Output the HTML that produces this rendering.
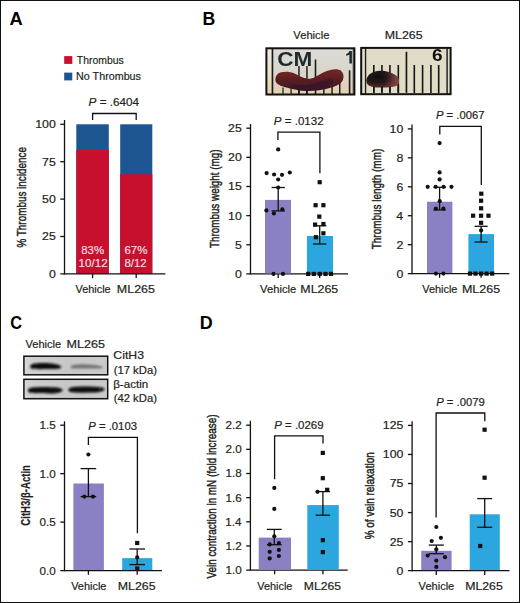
<!DOCTYPE html>
<html><head><meta charset="utf-8"><style>
html,body{margin:0;padding:0;background:#fff;}
svg{display:block;}
text{font-family:"Liberation Sans",sans-serif;}
</style></head><body>
<svg width="520" height="603" viewBox="0 0 520 603">
<rect x="0" y="0" width="520" height="603" fill="#fff"/>
<text x="9.54" y="25.00" font-size="17.5" font-weight="bold" fill="#000" textLength="13.24" lengthAdjust="spacingAndGlyphs" >A</text>
<text x="202.61" y="24.80" font-size="17.5" font-weight="bold" fill="#000" textLength="12.79" lengthAdjust="spacingAndGlyphs" >B</text>
<text x="10.13" y="329.20" font-size="17.5" font-weight="bold" fill="#000" textLength="11.82" lengthAdjust="spacingAndGlyphs" >C</text>
<text x="199.80" y="328.80" font-size="17.5" font-weight="bold" fill="#000" textLength="12.96" lengthAdjust="spacingAndGlyphs" >D</text>
<rect x="64.20" y="56.10" width="8.10" height="7.80" fill="#c8102e"/>
<rect x="64.20" y="72.60" width="8.10" height="7.80" fill="#1c5590"/>
<text x="76.87" y="63.80" font-size="11.5"  fill="#231f20" textLength="46.80" lengthAdjust="spacingAndGlyphs" stroke="#231f20" stroke-width="0.2">Thrombus</text>
<text x="76.12" y="80.40" font-size="11.5"  fill="#231f20" textLength="64.86" lengthAdjust="spacingAndGlyphs" stroke="#231f20" stroke-width="0.2">No Thrombus</text>
<text x="88.64" y="105.80" font-size="11"  fill="#231f20" textLength="50.40" lengthAdjust="spacingAndGlyphs" stroke="#231f20" stroke-width="0.2"><tspan font-style="italic">P</tspan> = .6404</text>
<path d="M92.60,119.90 V113.50 H136.20 V119.90" fill="none" stroke="#111" stroke-width="1.3"/>
<rect x="76.30" y="124.30" width="32.50" height="149.30" fill="#1c5590"/>
<rect x="76.30" y="150.00" width="32.50" height="123.60" fill="#c8102e"/>
<rect x="120.20" y="124.30" width="32.10" height="149.30" fill="#1c5590"/>
<rect x="120.20" y="174.20" width="32.10" height="99.40" fill="#c8102e"/>
<line x1="64.50" y1="120.00" x2="64.50" y2="274.55" stroke="#111" stroke-width="1.3"/>
<line x1="60.30" y1="273.90" x2="165.40" y2="273.90" stroke="#111" stroke-width="1.3"/>
<line x1="60.30" y1="124.30" x2="64.50" y2="124.30" stroke="#111" stroke-width="1.3"/>
<text x="35.23" y="128.25" font-size="11"  fill="#231f20" textLength="20.56" lengthAdjust="spacingAndGlyphs" stroke="#231f20" stroke-width="0.2">100</text>
<line x1="60.30" y1="161.70" x2="64.50" y2="161.70" stroke="#111" stroke-width="1.3"/>
<text x="42.12" y="165.65" font-size="11"  fill="#231f20" textLength="13.70" lengthAdjust="spacingAndGlyphs" stroke="#231f20" stroke-width="0.2">75</text>
<line x1="60.30" y1="199.10" x2="64.50" y2="199.10" stroke="#111" stroke-width="1.3"/>
<text x="42.08" y="203.05" font-size="11"  fill="#231f20" textLength="13.70" lengthAdjust="spacingAndGlyphs" stroke="#231f20" stroke-width="0.2">50</text>
<line x1="60.30" y1="236.50" x2="64.50" y2="236.50" stroke="#111" stroke-width="1.3"/>
<text x="42.12" y="240.45" font-size="11"  fill="#231f20" textLength="13.70" lengthAdjust="spacingAndGlyphs" stroke="#231f20" stroke-width="0.2">25</text>
<text x="48.93" y="277.85" font-size="11"  fill="#231f20" textLength="6.85" lengthAdjust="spacingAndGlyphs" stroke="#231f20" stroke-width="0.2">0</text>
<line x1="92.60" y1="273.90" x2="92.60" y2="278.10" stroke="#111" stroke-width="1.3"/>
<line x1="136.20" y1="273.90" x2="136.20" y2="278.10" stroke="#111" stroke-width="1.3"/>
<text x="81.31" y="253.80" font-size="10.8"  fill="#f6dde0" textLength="22.79" lengthAdjust="spacingAndGlyphs" stroke="#f6dde0" stroke-width="0.2">83%</text>
<text x="78.61" y="266.80" font-size="10.8"  fill="#f6dde0" textLength="29.17" lengthAdjust="spacingAndGlyphs" stroke="#f6dde0" stroke-width="0.2">10/12</text>
<text x="124.41" y="253.80" font-size="10.8"  fill="#f6dde0" textLength="22.99" lengthAdjust="spacingAndGlyphs" stroke="#f6dde0" stroke-width="0.2">67%</text>
<text x="124.51" y="266.80" font-size="10.8"  fill="#f6dde0" textLength="22.06" lengthAdjust="spacingAndGlyphs" stroke="#f6dde0" stroke-width="0.2">8/12</text>
<text x="75.55" y="292.70" font-size="11"  fill="#231f20" textLength="35.14" lengthAdjust="spacingAndGlyphs" stroke="#231f20" stroke-width="0.2">Vehicle</text>
<text x="116.88" y="292.70" font-size="11"  fill="#231f20" textLength="38.05" lengthAdjust="spacingAndGlyphs" stroke="#231f20" stroke-width="0.2">ML265</text>
<text transform="translate(25.90,247.56) rotate(-90)" font-size="13"  fill="#231f20" stroke="#231f20" stroke-width="0.45" textLength="100.50" lengthAdjust="spacingAndGlyphs">% Thrombus incidence</text>
<text x="293.34" y="39.40" font-size="11"  fill="#231f20" textLength="36.06" lengthAdjust="spacingAndGlyphs" stroke="#231f20" stroke-width="0.2">Vehicle</text>
<text x="384.79" y="39.40" font-size="11"  fill="#231f20" textLength="37.84" lengthAdjust="spacingAndGlyphs" stroke="#231f20" stroke-width="0.2">ML265</text>
<defs>
<linearGradient id="p1bg" x1="0" y1="0" x2="0" y2="1">
<stop offset="0" stop-color="#dcdbd4"/><stop offset="0.55" stop-color="#d8d6cc"/><stop offset="1" stop-color="#e4cfae"/>
</linearGradient>
<linearGradient id="p1side" x1="0" y1="0" x2="0" y2="1">
<stop offset="0" stop-color="#eceae2"/><stop offset="0.5" stop-color="#ebe4cc"/><stop offset="1" stop-color="#e8d4a8"/>
</linearGradient>
<linearGradient id="thr1" x1="0" y1="0" x2="0" y2="1">
<stop offset="0" stop-color="#742822"/><stop offset="0.35" stop-color="#632020"/><stop offset="0.7" stop-color="#4e1a22"/><stop offset="1" stop-color="#361628"/>
</linearGradient>
<radialGradient id="thr2" cx="0.35" cy="0.35" r="0.75">
<stop offset="0" stop-color="#141014"/><stop offset="0.45" stop-color="#201418"/><stop offset="0.8" stop-color="#4a2a28"/><stop offset="1" stop-color="#6a3a34"/>
</radialGradient>
<linearGradient id="thr2r" x1="0" y1="0" x2="1" y2="0">
<stop offset="0" stop-color="#7a3a38" stop-opacity="0"/><stop offset="0.55" stop-color="#7a3a38" stop-opacity="0"/><stop offset="1" stop-color="#8e4c46" stop-opacity="0.9"/>
</linearGradient>
<filter id="soft" x="-10%" y="-10%" width="120%" height="120%"><feGaussianBlur stdDeviation="0.45"/></filter>
<filter id="soft2" x="-10%" y="-20%" width="120%" height="140%"><feGaussianBlur stdDeviation="0.7"/></filter>
</defs>
<!-- photo 1 -->
<rect x="266.4" y="48.3" width="88" height="46.2" fill="url(#p1bg)"/>
<rect x="266.4" y="48.3" width="5.6" height="46.2" fill="url(#p1side)"/>
<g filter="url(#soft)">
<rect x="271.6" y="48.3" width="1.7" height="46" fill="#1c1c1c"/>
<rect x="298.2" y="66" width="1.5" height="28" fill="#222"/>
<rect x="306.2" y="66" width="1.5" height="28" fill="#222"/>
<rect x="314.7" y="59.5" width="1.6" height="35" fill="#1c1c1c"/>
<rect x="323.1" y="76" width="1.5" height="18" fill="#222"/>
<rect x="331.3" y="76" width="1.5" height="18" fill="#222"/>
<rect x="339.0" y="70" width="1.5" height="24" fill="#222"/>
<rect x="348.8" y="70.3" width="1.6" height="24" fill="#1c1c1c"/>
<rect x="352.6" y="48.3" width="1.2" height="46" fill="#333" opacity="0.7"/>
<text x="277.2" y="66.2" font-size="19.3" font-weight="bold" fill="#1f2a2d" textLength="35.2" lengthAdjust="spacingAndGlyphs">CM</text>
<path d="M349.4,50.9 H351.9 V63.6 H349.4 V54.6 C348.6,55.3 347.4,55.6 346.2,55.7 V53.9 C347.8,53.6 349,52.4 349.4,50.9 Z" fill="#1f2a2d"/>
</g>
<g filter="url(#soft2)">
<path d="M275.4,80 C275.2,76 277.5,73.2 281,72.3 C285,71.2 290,71.6 294,73.2 C299,75.2 303,78.4 308,78.8 C313,79 316,76.5 320,74.3 C325,71.6 330,69.6 335,69.3 C339.5,69.1 342.8,71.3 343.4,75 C344,79 342.6,82 339.5,84 C335,87 327,89 319,90.3 C311,91.3 302,91.2 295,89.4 C288,88 281.5,86.6 278,84.2 C276.2,83 275.5,81.6 275.4,80 Z" fill="url(#thr1)"/>
<path d="M292,84 C300,86 306,85.5 312,84 C318,82.5 322,80 328,78.5 C332,78 335,80 333,83 C329,86.5 320,88.8 312,89.6 C304,90.2 297,89.5 292,87.5 Z" fill="#2e1830" opacity="0.55"/>
</g>
<g filter="url(#soft)">
<rect x="282.3" y="87.5" width="1.4" height="6.5" fill="#1a1414" opacity="0.85"/>
<rect x="290.4" y="88.5" width="1.4" height="5.5" fill="#1a1414" opacity="0.85"/>
<rect x="298.2" y="89.5" width="1.5" height="4.5" fill="#1a1414"/>
<rect x="306.2" y="89.5" width="1.5" height="4.5" fill="#1a1414"/>
</g>
<rect x="266.4" y="48.3" width="88" height="46.2" fill="none" stroke="#111" stroke-width="2"/>
<!-- photo 2 -->
<rect x="361.2" y="47.9" width="89.4" height="46.3" fill="#e1dcc7"/>
<g filter="url(#soft)">
<rect x="364.9" y="47.9" width="1.3" height="46.3" fill="#1a1a1a"/>
<rect x="446.4" y="47.9" width="1.4" height="46.3" fill="#1a1a1a"/>
<rect x="373.0" y="65" width="1.6" height="28" fill="#151515"/>
<rect x="381.1" y="65" width="1.6" height="28" fill="#151515"/>
<rect x="389.1" y="65" width="1.6" height="28" fill="#151515"/>
<rect x="397.5" y="65" width="1.6" height="28" fill="#151515"/>
<rect x="405.6" y="51.8" width="1.7" height="41" fill="#151515"/>
<rect x="413.5" y="65" width="1.6" height="28" fill="#151515"/>
<rect x="421.8" y="65" width="1.6" height="28" fill="#151515"/>
<rect x="430.1" y="65" width="1.6" height="28" fill="#151515"/>
<rect x="437.9" y="65" width="1.6" height="28" fill="#151515"/>
<text x="431.9" y="60.9" font-size="16.5" font-weight="bold" fill="#111" textLength="10.6" lengthAdjust="spacingAndGlyphs">6</text>
</g>
<g filter="url(#soft2)">
<path d="M366.3,81 C366.3,76 371,71.5 379,70.7 C386,70.2 393,72.5 397,76.5 C399.6,79.5 399.4,83.5 397,85.6 C393,87.6 385,87.8 378,87.6 C371,87.3 366.6,85.6 366.3,81 Z" fill="url(#thr2)"/>
<path d="M366.3,81 C366.3,76 371,71.5 379,70.7 C386,70.2 393,72.5 397,76.5 C399.6,79.5 399.4,83.5 397,85.6 C393,87.6 385,87.8 378,87.6 C371,87.3 366.6,85.6 366.3,81 Z" fill="url(#thr2r)"/>
</g>
<g filter="url(#soft)">
<rect x="373.0" y="86.5" width="1.6" height="6" fill="#151515"/>
<rect x="381.1" y="86.5" width="1.6" height="6" fill="#151515"/>
<rect x="389.1" y="86.5" width="1.6" height="6" fill="#151515"/>
<rect x="397.5" y="85" width="1.6" height="7.5" fill="#151515"/>
</g>
<rect x="361.2" y="47.9" width="89.4" height="46.3" fill="none" stroke="#111" stroke-width="2"/>

<line x1="250.50" y1="124.10" x2="250.50" y2="274.55" stroke="#111" stroke-width="1.3"/>
<line x1="246.30" y1="273.90" x2="348.00" y2="273.90" stroke="#111" stroke-width="1.3"/>
<line x1="246.30" y1="128.20" x2="250.50" y2="128.20" stroke="#111" stroke-width="1.3"/>
<text x="228.12" y="132.15" font-size="11"  fill="#231f20" textLength="13.70" lengthAdjust="spacingAndGlyphs" stroke="#231f20" stroke-width="0.2">25</text>
<line x1="246.30" y1="157.34" x2="250.50" y2="157.34" stroke="#111" stroke-width="1.3"/>
<text x="228.08" y="161.29" font-size="11"  fill="#231f20" textLength="13.70" lengthAdjust="spacingAndGlyphs" stroke="#231f20" stroke-width="0.2">20</text>
<line x1="246.30" y1="186.48" x2="250.50" y2="186.48" stroke="#111" stroke-width="1.3"/>
<text x="228.12" y="190.43" font-size="11"  fill="#231f20" textLength="13.70" lengthAdjust="spacingAndGlyphs" stroke="#231f20" stroke-width="0.2">15</text>
<line x1="246.30" y1="215.62" x2="250.50" y2="215.62" stroke="#111" stroke-width="1.3"/>
<text x="228.08" y="219.57" font-size="11"  fill="#231f20" textLength="13.70" lengthAdjust="spacingAndGlyphs" stroke="#231f20" stroke-width="0.2">10</text>
<line x1="246.30" y1="244.76" x2="250.50" y2="244.76" stroke="#111" stroke-width="1.3"/>
<text x="234.97" y="248.71" font-size="11"  fill="#231f20" textLength="6.85" lengthAdjust="spacingAndGlyphs" stroke="#231f20" stroke-width="0.2">5</text>
<text x="234.93" y="277.85" font-size="11"  fill="#231f20" textLength="6.85" lengthAdjust="spacingAndGlyphs" stroke="#231f20" stroke-width="0.2">0</text>
<line x1="278.20" y1="273.90" x2="278.20" y2="278.10" stroke="#111" stroke-width="1.3"/>
<line x1="319.70" y1="273.90" x2="319.70" y2="278.10" stroke="#111" stroke-width="1.3"/>
<rect x="265.00" y="199.90" width="26.00" height="73.40" fill="#8a80c4"/>
<rect x="306.90" y="236.00" width="26.10" height="37.30" fill="#2ba6df"/>
<line x1="278.20" y1="187.50" x2="278.20" y2="210.90" stroke="#111" stroke-width="1.3"/>
<line x1="271.60" y1="187.50" x2="284.80" y2="187.50" stroke="#111" stroke-width="1.3"/>
<line x1="271.60" y1="210.90" x2="284.80" y2="210.90" stroke="#111" stroke-width="1.3"/>
<line x1="319.70" y1="225.80" x2="319.70" y2="244.00" stroke="#111" stroke-width="1.3"/>
<line x1="313.00" y1="225.80" x2="326.40" y2="225.80" stroke="#111" stroke-width="1.3"/>
<line x1="313.00" y1="244.00" x2="326.40" y2="244.00" stroke="#111" stroke-width="1.3"/>
<circle cx="278.20" cy="149.40" r="2.1" fill="#111"/>
<circle cx="266.60" cy="173.10" r="2.1" fill="#111"/>
<circle cx="274.10" cy="174.50" r="2.1" fill="#111"/>
<circle cx="282.00" cy="174.80" r="2.1" fill="#111"/>
<circle cx="289.80" cy="172.50" r="2.1" fill="#111"/>
<circle cx="278.20" cy="179.50" r="2.1" fill="#111"/>
<circle cx="278.20" cy="187.50" r="2.1" fill="#111"/>
<circle cx="266.40" cy="210.40" r="2.1" fill="#111"/>
<circle cx="273.90" cy="213.40" r="2.1" fill="#111"/>
<circle cx="282.30" cy="209.40" r="2.1" fill="#111"/>
<circle cx="273.50" cy="273.90" r="2.1" fill="#111"/>
<circle cx="283.00" cy="273.90" r="2.1" fill="#111"/>
<rect x="317.60" y="180.10" width="4.20" height="4.20" fill="#111"/>
<rect x="313.50" y="203.10" width="4.20" height="4.20" fill="#111"/>
<rect x="321.30" y="203.10" width="4.20" height="4.20" fill="#111"/>
<rect x="317.20" y="214.50" width="4.20" height="4.20" fill="#111"/>
<rect x="313.00" y="222.50" width="4.20" height="4.20" fill="#111"/>
<rect x="321.30" y="221.90" width="4.20" height="4.20" fill="#111"/>
<rect x="321.30" y="231.20" width="4.20" height="4.20" fill="#111"/>
<rect x="313.80" y="235.10" width="4.20" height="4.20" fill="#111"/>
<rect x="306.10" y="271.80" width="4.20" height="4.20" fill="#111"/>
<rect x="311.70" y="271.80" width="4.20" height="4.20" fill="#111"/>
<rect x="317.60" y="271.80" width="4.20" height="4.20" fill="#111"/>
<rect x="323.40" y="271.80" width="4.20" height="4.20" fill="#111"/>
<rect x="328.90" y="271.80" width="4.20" height="4.20" fill="#111"/>
<path d="M277.90,139.90 V132.20 H319.90 V173.30" fill="none" stroke="#111" stroke-width="1.3"/>
<text x="273.85" y="124.80" font-size="11"  fill="#231f20" textLength="49.73" lengthAdjust="spacingAndGlyphs" stroke="#231f20" stroke-width="0.2"><tspan font-style="italic">P</tspan> = .0132</text>
<text x="260.14" y="293.20" font-size="11"  fill="#231f20" textLength="36.06" lengthAdjust="spacingAndGlyphs" stroke="#231f20" stroke-width="0.2">Vehicle</text>
<text x="300.39" y="293.20" font-size="11"  fill="#231f20" textLength="37.84" lengthAdjust="spacingAndGlyphs" stroke="#231f20" stroke-width="0.2">ML265</text>
<text transform="translate(218.90,248.12) rotate(-90)" font-size="13"  fill="#231f20" stroke="#231f20" stroke-width="0.45" textLength="98.73" lengthAdjust="spacingAndGlyphs">Thrombus weight (mg)</text>
<line x1="412.00" y1="124.60" x2="412.00" y2="274.25" stroke="#111" stroke-width="1.3"/>
<line x1="407.80" y1="273.60" x2="509.30" y2="273.60" stroke="#111" stroke-width="1.3"/>
<line x1="407.80" y1="128.90" x2="412.00" y2="128.90" stroke="#111" stroke-width="1.3"/>
<text x="389.58" y="132.85" font-size="11"  fill="#231f20" textLength="13.70" lengthAdjust="spacingAndGlyphs" stroke="#231f20" stroke-width="0.2">10</text>
<line x1="407.80" y1="157.84" x2="412.00" y2="157.84" stroke="#111" stroke-width="1.3"/>
<text x="396.48" y="161.79" font-size="11"  fill="#231f20" textLength="6.85" lengthAdjust="spacingAndGlyphs" stroke="#231f20" stroke-width="0.2">8</text>
<line x1="407.80" y1="186.78" x2="412.00" y2="186.78" stroke="#111" stroke-width="1.3"/>
<text x="396.49" y="190.73" font-size="11"  fill="#231f20" textLength="6.85" lengthAdjust="spacingAndGlyphs" stroke="#231f20" stroke-width="0.2">6</text>
<line x1="407.80" y1="215.72" x2="412.00" y2="215.72" stroke="#111" stroke-width="1.3"/>
<text x="396.31" y="219.67" font-size="11"  fill="#231f20" textLength="6.85" lengthAdjust="spacingAndGlyphs" stroke="#231f20" stroke-width="0.2">4</text>
<line x1="407.80" y1="244.66" x2="412.00" y2="244.66" stroke="#111" stroke-width="1.3"/>
<text x="396.57" y="248.61" font-size="11"  fill="#231f20" textLength="6.85" lengthAdjust="spacingAndGlyphs" stroke="#231f20" stroke-width="0.2">2</text>
<text x="396.43" y="277.55" font-size="11"  fill="#231f20" textLength="6.85" lengthAdjust="spacingAndGlyphs" stroke="#231f20" stroke-width="0.2">0</text>
<line x1="439.60" y1="273.60" x2="439.60" y2="277.80" stroke="#111" stroke-width="1.3"/>
<line x1="481.10" y1="273.60" x2="481.10" y2="277.80" stroke="#111" stroke-width="1.3"/>
<rect x="427.00" y="201.70" width="25.40" height="71.30" fill="#8a80c4"/>
<rect x="468.40" y="234.10" width="25.60" height="38.90" fill="#2ba6df"/>
<line x1="439.60" y1="187.30" x2="439.60" y2="209.90" stroke="#111" stroke-width="1.3"/>
<line x1="433.40" y1="187.30" x2="445.80" y2="187.30" stroke="#111" stroke-width="1.3"/>
<line x1="433.40" y1="209.90" x2="445.80" y2="209.90" stroke="#111" stroke-width="1.3"/>
<line x1="481.10" y1="226.30" x2="481.10" y2="242.00" stroke="#111" stroke-width="1.3"/>
<line x1="474.50" y1="226.30" x2="487.70" y2="226.30" stroke="#111" stroke-width="1.3"/>
<line x1="474.50" y1="242.00" x2="487.70" y2="242.00" stroke="#111" stroke-width="1.3"/>
<circle cx="439.60" cy="143.10" r="2.1" fill="#111"/>
<circle cx="439.60" cy="172.40" r="2.1" fill="#111"/>
<circle cx="439.60" cy="179.40" r="2.1" fill="#111"/>
<circle cx="427.70" cy="186.80" r="2.1" fill="#111"/>
<circle cx="435.70" cy="186.80" r="2.1" fill="#111"/>
<circle cx="443.60" cy="186.80" r="2.1" fill="#111"/>
<circle cx="451.50" cy="186.80" r="2.1" fill="#111"/>
<circle cx="439.70" cy="201.20" r="2.1" fill="#111"/>
<circle cx="435.90" cy="208.70" r="2.1" fill="#111"/>
<circle cx="443.40" cy="208.70" r="2.1" fill="#111"/>
<circle cx="435.90" cy="273.60" r="2.1" fill="#111"/>
<circle cx="443.40" cy="273.60" r="2.1" fill="#111"/>
<rect x="479.20" y="191.60" width="4.20" height="4.20" fill="#111"/>
<rect x="479.00" y="198.60" width="4.20" height="4.20" fill="#111"/>
<rect x="479.00" y="206.20" width="4.20" height="4.20" fill="#111"/>
<rect x="471.00" y="213.60" width="4.20" height="4.20" fill="#111"/>
<rect x="479.00" y="213.60" width="4.20" height="4.20" fill="#111"/>
<rect x="486.40" y="213.60" width="4.20" height="4.20" fill="#111"/>
<rect x="479.00" y="220.70" width="4.20" height="4.20" fill="#111"/>
<rect x="467.90" y="271.50" width="4.20" height="4.20" fill="#111"/>
<rect x="473.40" y="271.50" width="4.20" height="4.20" fill="#111"/>
<rect x="479.00" y="271.50" width="4.20" height="4.20" fill="#111"/>
<rect x="484.50" y="271.50" width="4.20" height="4.20" fill="#111"/>
<rect x="490.10" y="271.50" width="4.20" height="4.20" fill="#111"/>
<circle cx="481.10" cy="230.40" r="2.1" fill="#111"/>
<path d="M439.80,134.40 V126.30 H481.30 V185.00" fill="none" stroke="#111" stroke-width="1.3"/>
<text x="435.97" y="118.80" font-size="11"  fill="#231f20" textLength="48.60" lengthAdjust="spacingAndGlyphs" stroke="#231f20" stroke-width="0.2"><tspan font-style="italic">P</tspan> = .0067</text>
<text x="422.25" y="293.30" font-size="11"  fill="#231f20" textLength="35.14" lengthAdjust="spacingAndGlyphs" stroke="#231f20" stroke-width="0.2">Vehicle</text>
<text x="461.98" y="293.30" font-size="11"  fill="#231f20" textLength="38.16" lengthAdjust="spacingAndGlyphs" stroke="#231f20" stroke-width="0.2">ML265</text>
<text transform="translate(380.60,249.22) rotate(-90)" font-size="13"  fill="#231f20" stroke="#231f20" stroke-width="0.45" textLength="100.43" lengthAdjust="spacingAndGlyphs">Thrombus length (mm)</text>
<text x="25.44" y="348.20" font-size="11"  fill="#231f20" textLength="35.75" lengthAdjust="spacingAndGlyphs" stroke="#231f20" stroke-width="0.2">Vehicle</text>
<text x="66.57" y="348.20" font-size="11"  fill="#231f20" textLength="38.36" lengthAdjust="spacingAndGlyphs" stroke="#231f20" stroke-width="0.2">ML265</text>
<defs>
<linearGradient id="blotbg" x1="0" y1="0" x2="1" y2="0">
<stop offset="0" stop-color="#d8d8d8"/><stop offset="0.12" stop-color="#cdcdcd"/><stop offset="0.5" stop-color="#c7c7c7"/><stop offset="1" stop-color="#cacaca"/>
</linearGradient>
<filter id="bl1" x="-20%" y="-100%" width="140%" height="300%"><feGaussianBlur stdDeviation="1.1"/></filter>
</defs>
<rect x="23.9" y="356.2" width="83.8" height="18.6" fill="url(#blotbg)"/>
<rect x="23.9" y="379.3" width="83.8" height="19.4" fill="url(#blotbg)"/>
<g filter="url(#bl1)">
<path d="M30.2,366.2 C30.8,363.6 36,362.9 44,363.1 C52,363.3 58.5,364.2 61.2,366.4 C62,368.3 58,369.2 51,369.1 C43,369 36,369.4 32,368.8 C30.4,368.3 30,367.2 30.2,366.2 Z" fill="#0c0c0c"/>
<path d="M70.6,366.8 C71.5,364.8 78,364.2 86,364.4 C94,364.6 100.5,365.4 103.2,367 C103.5,368.4 98,368.8 90,368.6 C82,368.4 75,368.8 72,368.4 C70.8,368 70.4,367.4 70.6,366.8 Z" fill="#747474"/>
<path d="M27.8,390 C28.6,387.4 36,386.9 45,387.1 C54,387.2 60.5,387.6 62.5,389.4 C63.3,391.7 59,393.4 50,393.4 C40,393.4 32,393.4 29.3,392.6 C28,392 27.6,390.9 27.8,390 Z" fill="#0a0a0a"/>
<path d="M68.4,389.3 C69.2,386.8 76,386.3 86,386.4 C95,386.5 102.5,386.8 104.5,388.5 C105.3,390.7 101,392.5 92,392.6 C82,392.7 74,392.7 70,391.9 C68.7,391.3 68.2,390.2 68.4,389.3 Z" fill="#0a0a0a"/>
</g>
<circle cx="99.6" cy="388.4" r="0.9" fill="#777" filter="url(#bl1)"/>
<rect x="23.9" y="356.2" width="83.8" height="18.6" fill="none" stroke="#111" stroke-width="1.5"/>
<rect x="23.9" y="379.3" width="83.8" height="19.4" fill="none" stroke="#111" stroke-width="1.5"/>

<text x="113.37" y="359.40" font-size="11"  fill="#231f20" textLength="30.67" lengthAdjust="spacingAndGlyphs" stroke="#231f20" stroke-width="0.2">CitH3</text>
<text x="113.70" y="373.75" font-size="11"  fill="#231f20" textLength="43.25" lengthAdjust="spacingAndGlyphs" stroke="#231f20" stroke-width="0.2">(17 kDa)</text>
<text x="113.20" y="387.50" font-size="11"  fill="#231f20" textLength="35.06" lengthAdjust="spacingAndGlyphs" stroke="#231f20" stroke-width="0.2">β-actin</text>
<text x="113.70" y="401.50" font-size="11"  fill="#231f20" textLength="43.25" lengthAdjust="spacingAndGlyphs" stroke="#231f20" stroke-width="0.2">(42 kDa)</text>
<line x1="64.50" y1="421.30" x2="64.50" y2="571.25" stroke="#111" stroke-width="1.3"/>
<line x1="60.30" y1="570.60" x2="161.90" y2="570.60" stroke="#111" stroke-width="1.3"/>
<line x1="60.30" y1="425.20" x2="64.50" y2="425.20" stroke="#111" stroke-width="1.3"/>
<text x="39.58" y="429.15" font-size="11"  fill="#231f20" textLength="16.21" lengthAdjust="spacingAndGlyphs" stroke="#231f20" stroke-width="0.2">1.5</text>
<line x1="60.30" y1="473.67" x2="64.50" y2="473.67" stroke="#111" stroke-width="1.3"/>
<text x="39.55" y="477.62" font-size="11"  fill="#231f20" textLength="16.21" lengthAdjust="spacingAndGlyphs" stroke="#231f20" stroke-width="0.2">1.0</text>
<line x1="60.30" y1="522.13" x2="64.50" y2="522.13" stroke="#111" stroke-width="1.3"/>
<text x="39.58" y="526.08" font-size="11"  fill="#231f20" textLength="16.21" lengthAdjust="spacingAndGlyphs" stroke="#231f20" stroke-width="0.2">0.5</text>
<text x="39.55" y="574.55" font-size="11"  fill="#231f20" textLength="16.21" lengthAdjust="spacingAndGlyphs" stroke="#231f20" stroke-width="0.2">0.0</text>
<line x1="88.40" y1="570.60" x2="88.40" y2="574.80" stroke="#111" stroke-width="1.3"/>
<line x1="137.20" y1="570.60" x2="137.20" y2="574.80" stroke="#111" stroke-width="1.3"/>
<rect x="73.40" y="483.50" width="30.50" height="86.50" fill="#8a80c4"/>
<rect x="122.20" y="558.10" width="30.10" height="11.90" fill="#2ba6df"/>
<line x1="88.40" y1="468.60" x2="88.40" y2="496.60" stroke="#111" stroke-width="1.3"/>
<line x1="80.60" y1="468.60" x2="96.20" y2="468.60" stroke="#111" stroke-width="1.3"/>
<line x1="80.60" y1="496.60" x2="96.20" y2="496.60" stroke="#111" stroke-width="1.3"/>
<line x1="137.20" y1="549.00" x2="137.20" y2="564.60" stroke="#111" stroke-width="1.3"/>
<line x1="129.40" y1="549.00" x2="145.00" y2="549.00" stroke="#111" stroke-width="1.3"/>
<line x1="129.40" y1="564.60" x2="145.00" y2="564.60" stroke="#111" stroke-width="1.3"/>
<circle cx="88.40" cy="454.50" r="2.1" fill="#111"/>
<circle cx="84.30" cy="496.60" r="2.1" fill="#111"/>
<circle cx="93.00" cy="496.60" r="2.1" fill="#111"/>
<rect x="135.10" y="540.90" width="4.20" height="4.20" fill="#111"/>
<rect x="135.10" y="566.40" width="4.20" height="4.20" fill="#111"/>
<circle cx="137.20" cy="557.40" r="2.1" fill="#111"/>
<path d="M88.40,444.90 V437.40 H137.40 V533.20" fill="none" stroke="#111" stroke-width="1.3"/>
<text x="88.27" y="429.50" font-size="11"  fill="#231f20" textLength="48.73" lengthAdjust="spacingAndGlyphs" stroke="#231f20" stroke-width="0.2"><tspan font-style="italic">P</tspan> = .0103</text>
<text x="71.15" y="590.00" font-size="11"  fill="#231f20" textLength="35.34" lengthAdjust="spacingAndGlyphs" stroke="#231f20" stroke-width="0.2">Vehicle</text>
<text x="117.79" y="590.00" font-size="11"  fill="#231f20" textLength="37.74" lengthAdjust="spacingAndGlyphs" stroke="#231f20" stroke-width="0.2">ML265</text>
<text transform="translate(30.30,525.69) rotate(-90)" font-size="13" font-weight="bold" fill="#231f20" stroke="#231f20" stroke-width="0.2" textLength="60.58" lengthAdjust="spacingAndGlyphs">CitH3/β-Actin</text>
<line x1="250.40" y1="420.80" x2="250.40" y2="570.75" stroke="#111" stroke-width="1.3"/>
<line x1="246.20" y1="570.10" x2="347.70" y2="570.10" stroke="#111" stroke-width="1.3"/>
<line x1="246.20" y1="425.20" x2="250.40" y2="425.20" stroke="#111" stroke-width="1.3"/>
<text x="225.58" y="429.15" font-size="11"  fill="#231f20" textLength="16.21" lengthAdjust="spacingAndGlyphs" stroke="#231f20" stroke-width="0.2">2.2</text>
<line x1="246.20" y1="449.35" x2="250.40" y2="449.35" stroke="#111" stroke-width="1.3"/>
<text x="225.45" y="453.30" font-size="11"  fill="#231f20" textLength="16.21" lengthAdjust="spacingAndGlyphs" stroke="#231f20" stroke-width="0.2">2.0</text>
<line x1="246.20" y1="473.50" x2="250.40" y2="473.50" stroke="#111" stroke-width="1.3"/>
<text x="225.49" y="477.45" font-size="11"  fill="#231f20" textLength="16.21" lengthAdjust="spacingAndGlyphs" stroke="#231f20" stroke-width="0.2">1.8</text>
<line x1="246.20" y1="497.65" x2="250.40" y2="497.65" stroke="#111" stroke-width="1.3"/>
<text x="225.51" y="501.60" font-size="11"  fill="#231f20" textLength="16.21" lengthAdjust="spacingAndGlyphs" stroke="#231f20" stroke-width="0.2">1.6</text>
<line x1="246.20" y1="521.80" x2="250.40" y2="521.80" stroke="#111" stroke-width="1.3"/>
<text x="225.33" y="525.75" font-size="11"  fill="#231f20" textLength="16.21" lengthAdjust="spacingAndGlyphs" stroke="#231f20" stroke-width="0.2">1.4</text>
<line x1="246.20" y1="545.95" x2="250.40" y2="545.95" stroke="#111" stroke-width="1.3"/>
<text x="225.58" y="549.90" font-size="11"  fill="#231f20" textLength="16.21" lengthAdjust="spacingAndGlyphs" stroke="#231f20" stroke-width="0.2">1.2</text>
<text x="225.45" y="574.05" font-size="11"  fill="#231f20" textLength="16.21" lengthAdjust="spacingAndGlyphs" stroke="#231f20" stroke-width="0.2">1.0</text>
<line x1="274.60" y1="570.10" x2="274.60" y2="574.30" stroke="#111" stroke-width="1.3"/>
<line x1="322.90" y1="570.10" x2="322.90" y2="574.30" stroke="#111" stroke-width="1.3"/>
<rect x="258.70" y="537.60" width="32.30" height="31.90" fill="#8a80c4"/>
<rect x="307.30" y="505.10" width="31.50" height="64.40" fill="#2ba6df"/>
<line x1="274.30" y1="529.40" x2="274.30" y2="544.70" stroke="#111" stroke-width="1.3"/>
<line x1="266.90" y1="529.40" x2="281.70" y2="529.40" stroke="#111" stroke-width="1.3"/>
<line x1="266.90" y1="544.70" x2="281.70" y2="544.70" stroke="#111" stroke-width="1.3"/>
<line x1="322.90" y1="491.60" x2="322.90" y2="515.20" stroke="#111" stroke-width="1.3"/>
<line x1="315.70" y1="491.60" x2="330.10" y2="491.60" stroke="#111" stroke-width="1.3"/>
<line x1="315.70" y1="515.20" x2="330.10" y2="515.20" stroke="#111" stroke-width="1.3"/>
<circle cx="274.30" cy="487.90" r="2.1" fill="#111"/>
<circle cx="274.30" cy="508.90" r="2.1" fill="#111"/>
<circle cx="274.30" cy="536.30" r="2.1" fill="#111"/>
<circle cx="269.70" cy="544.40" r="2.1" fill="#111"/>
<circle cx="278.90" cy="543.10" r="2.1" fill="#111"/>
<circle cx="269.70" cy="551.80" r="2.1" fill="#111"/>
<circle cx="278.90" cy="549.90" r="2.1" fill="#111"/>
<circle cx="269.70" cy="558.40" r="2.1" fill="#111"/>
<circle cx="278.90" cy="556.00" r="2.1" fill="#111"/>
<rect x="320.70" y="450.80" width="4.20" height="4.20" fill="#111"/>
<rect x="320.70" y="476.10" width="4.20" height="4.20" fill="#111"/>
<rect x="325.10" y="487.70" width="4.20" height="4.20" fill="#111"/>
<rect x="320.80" y="538.00" width="4.20" height="4.20" fill="#111"/>
<rect x="320.80" y="550.00" width="4.20" height="4.20" fill="#111"/>
<circle cx="317.50" cy="491.80" r="2.1" fill="#111"/>
<path d="M274.60,479.30 V435.80 H323.00 V443.40" fill="none" stroke="#111" stroke-width="1.3"/>
<text x="274.15" y="428.50" font-size="11"  fill="#231f20" textLength="49.49" lengthAdjust="spacingAndGlyphs" stroke="#231f20" stroke-width="0.2"><tspan font-style="italic">P</tspan> = .0269</text>
<text x="257.25" y="590.00" font-size="11"  fill="#231f20" textLength="35.14" lengthAdjust="spacingAndGlyphs" stroke="#231f20" stroke-width="0.2">Vehicle</text>
<text x="303.80" y="590.00" font-size="11"  fill="#231f20" textLength="37.11" lengthAdjust="spacingAndGlyphs" stroke="#231f20" stroke-width="0.2">ML265</text>
<text transform="translate(216.30,578.55) rotate(-90)" font-size="13"  fill="#231f20" stroke="#231f20" stroke-width="0.45" textLength="164.06" lengthAdjust="spacingAndGlyphs">Vein contraction in mN (fold increase)</text>
<line x1="412.10" y1="421.30" x2="412.10" y2="571.35" stroke="#111" stroke-width="1.3"/>
<line x1="407.90" y1="570.70" x2="509.50" y2="570.70" stroke="#111" stroke-width="1.3"/>
<line x1="407.90" y1="425.40" x2="412.10" y2="425.40" stroke="#111" stroke-width="1.3"/>
<text x="382.87" y="429.35" font-size="11"  fill="#231f20" textLength="20.56" lengthAdjust="spacingAndGlyphs" stroke="#231f20" stroke-width="0.2">125</text>
<line x1="407.90" y1="454.46" x2="412.10" y2="454.46" stroke="#111" stroke-width="1.3"/>
<text x="382.83" y="458.41" font-size="11"  fill="#231f20" textLength="20.56" lengthAdjust="spacingAndGlyphs" stroke="#231f20" stroke-width="0.2">100</text>
<line x1="407.90" y1="483.52" x2="412.10" y2="483.52" stroke="#111" stroke-width="1.3"/>
<text x="389.72" y="487.47" font-size="11"  fill="#231f20" textLength="13.70" lengthAdjust="spacingAndGlyphs" stroke="#231f20" stroke-width="0.2">75</text>
<line x1="407.90" y1="512.58" x2="412.10" y2="512.58" stroke="#111" stroke-width="1.3"/>
<text x="389.68" y="516.53" font-size="11"  fill="#231f20" textLength="13.70" lengthAdjust="spacingAndGlyphs" stroke="#231f20" stroke-width="0.2">50</text>
<line x1="407.90" y1="541.64" x2="412.10" y2="541.64" stroke="#111" stroke-width="1.3"/>
<text x="389.72" y="545.59" font-size="11"  fill="#231f20" textLength="13.70" lengthAdjust="spacingAndGlyphs" stroke="#231f20" stroke-width="0.2">25</text>
<text x="396.53" y="574.65" font-size="11"  fill="#231f20" textLength="6.85" lengthAdjust="spacingAndGlyphs" stroke="#231f20" stroke-width="0.2">0</text>
<line x1="436.30" y1="570.70" x2="436.30" y2="574.90" stroke="#111" stroke-width="1.3"/>
<line x1="484.70" y1="570.70" x2="484.70" y2="574.90" stroke="#111" stroke-width="1.3"/>
<rect x="421.20" y="550.80" width="30.40" height="19.30" fill="#8a80c4"/>
<rect x="469.70" y="514.30" width="30.10" height="55.80" fill="#2ba6df"/>
<line x1="436.30" y1="545.10" x2="436.30" y2="553.70" stroke="#111" stroke-width="1.3"/>
<line x1="428.80" y1="545.10" x2="443.80" y2="545.10" stroke="#111" stroke-width="1.3"/>
<line x1="428.80" y1="553.70" x2="443.80" y2="553.70" stroke="#111" stroke-width="1.3"/>
<line x1="484.70" y1="498.60" x2="484.70" y2="527.30" stroke="#111" stroke-width="1.3"/>
<line x1="477.20" y1="498.60" x2="492.20" y2="498.60" stroke="#111" stroke-width="1.3"/>
<line x1="477.20" y1="527.30" x2="492.20" y2="527.30" stroke="#111" stroke-width="1.3"/>
<circle cx="436.30" cy="527.00" r="2.1" fill="#111"/>
<circle cx="440.90" cy="537.80" r="2.1" fill="#111"/>
<circle cx="431.70" cy="541.00" r="2.1" fill="#111"/>
<circle cx="436.30" cy="549.30" r="2.1" fill="#111"/>
<circle cx="427.70" cy="555.50" r="2.1" fill="#111"/>
<circle cx="445.00" cy="557.20" r="2.1" fill="#111"/>
<circle cx="436.30" cy="560.60" r="2.1" fill="#111"/>
<circle cx="436.30" cy="566.90" r="2.1" fill="#111"/>
<rect x="482.50" y="427.60" width="4.20" height="4.20" fill="#111"/>
<rect x="482.50" y="475.60" width="4.20" height="4.20" fill="#111"/>
<rect x="478.10" y="543.90" width="4.20" height="4.20" fill="#111"/>
<path d="M436.10,517.50 V413.00 H484.80 V421.20" fill="none" stroke="#111" stroke-width="1.3"/>
<text x="436.17" y="405.50" font-size="11"  fill="#231f20" textLength="48.56" lengthAdjust="spacingAndGlyphs" stroke="#231f20" stroke-width="0.2"><tspan font-style="italic">P</tspan> = .0079</text>
<text x="418.64" y="590.00" font-size="11"  fill="#231f20" textLength="35.65" lengthAdjust="spacingAndGlyphs" stroke="#231f20" stroke-width="0.2">Vehicle</text>
<text x="465.19" y="590.00" font-size="11"  fill="#231f20" textLength="37.63" lengthAdjust="spacingAndGlyphs" stroke="#231f20" stroke-width="0.2">ML265</text>
<text transform="translate(374.20,539.36) rotate(-90)" font-size="13"  fill="#231f20" stroke="#231f20" stroke-width="0.45" textLength="87.11" lengthAdjust="spacingAndGlyphs">% of vein relaxation</text>
<rect x="0.5" y="0.5" width="519" height="602" fill="none" stroke="#111" stroke-width="1"/>
</svg>
</body></html>
